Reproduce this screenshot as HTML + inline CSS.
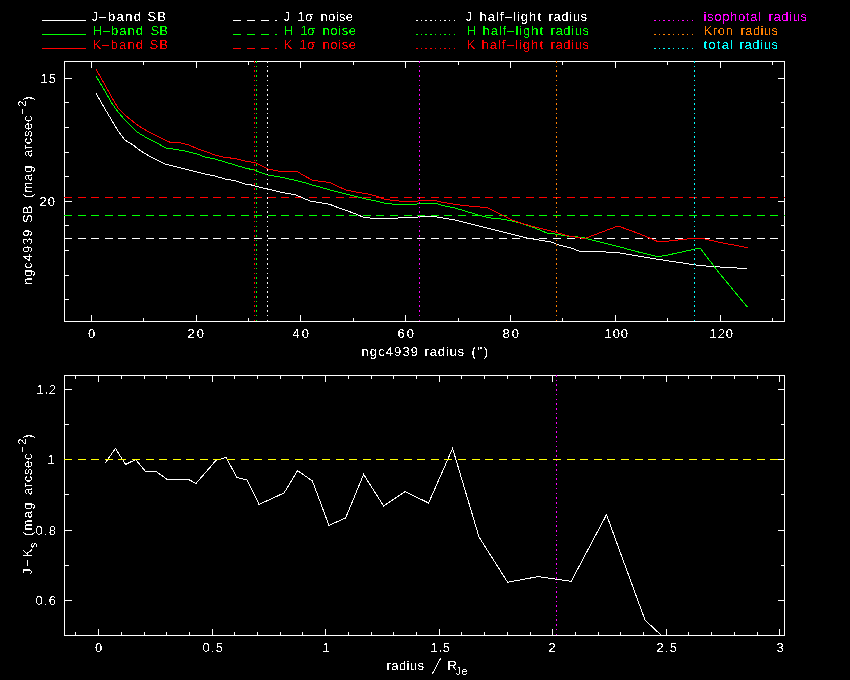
<!DOCTYPE html>
<html><head><meta charset="utf-8"><title>ngc4939 profile</title>
<style>
html,body{margin:0;padding:0;background:#000;width:850px;height:680px;overflow:hidden}
svg{display:block}
text{font-family:"Liberation Sans", sans-serif;}
</style></head><body>
<svg width="850" height="680" viewBox="0 0 850 680">
<defs>
<filter id="crisp" x="0" y="0" width="850" height="680" filterUnits="userSpaceOnUse"><feComponentTransfer><feFuncA type="discrete" tableValues="0 1"/></feComponentTransfer></filter>
<clipPath id="ctop"><rect x="64" y="61" width="721" height="261"/></clipPath>
<clipPath id="cbot"><rect x="64" y="375" width="721" height="261"/></clipPath>
</defs>
<rect width="850" height="680" fill="#000"/>
<g shape-rendering="crispEdges" stroke-width="1" fill="none">
<path d="M42 20.5H86" stroke="#ffffff" />
<path d="M233 20.5H277" stroke="#ffffff" stroke-dasharray="8 6"/>
<path d="M416 20.5H456" stroke="#ffffff" stroke-dasharray="1.5 3.2"/>
<path d="M42 34.5H86" stroke="#00ff00" />
<path d="M233 34.5H277" stroke="#00ff00" stroke-dasharray="8 6"/>
<path d="M416 34.5H456" stroke="#00ff00" stroke-dasharray="1.5 3.2"/>
<path d="M42 48.5H86" stroke="#ff0000" />
<path d="M233 48.5H277" stroke="#ff0000" stroke-dasharray="8 6"/>
<path d="M416 48.5H456" stroke="#ff0000" stroke-dasharray="1.5 3.2"/>
<path d="M654 20.5H694" stroke="#ff00ff" stroke-dasharray="1.5 3.2"/>
<path d="M654 34.5H694" stroke="#ff8000" stroke-dasharray="1.5 3.2"/>
<path d="M654 48.5H694" stroke="#00ffff" stroke-dasharray="1.5 3.2"/>
<rect x="64.5" y="61.5" width="720" height="260" fill="none" stroke="#ffffff"/>
<rect x="64.5" y="375.5" width="720" height="260" fill="none" stroke="#ffffff"/>
<path d="M91.5 315V321" stroke="#ffffff" />
<path d="M91.5 62V68" stroke="#ffffff" />
<path d="M143.5 318V321" stroke="#ffffff" />
<path d="M143.5 62V65" stroke="#ffffff" />
<path d="M196.5 315V321" stroke="#ffffff" />
<path d="M196.5 62V68" stroke="#ffffff" />
<path d="M248.5 318V321" stroke="#ffffff" />
<path d="M248.5 62V65" stroke="#ffffff" />
<path d="M300.5 315V321" stroke="#ffffff" />
<path d="M300.5 62V68" stroke="#ffffff" />
<path d="M353.5 318V321" stroke="#ffffff" />
<path d="M353.5 62V65" stroke="#ffffff" />
<path d="M405.5 315V321" stroke="#ffffff" />
<path d="M405.5 62V68" stroke="#ffffff" />
<path d="M458.5 318V321" stroke="#ffffff" />
<path d="M458.5 62V65" stroke="#ffffff" />
<path d="M510.5 315V321" stroke="#ffffff" />
<path d="M510.5 62V68" stroke="#ffffff" />
<path d="M562.5 318V321" stroke="#ffffff" />
<path d="M562.5 62V65" stroke="#ffffff" />
<path d="M615.5 315V321" stroke="#ffffff" />
<path d="M615.5 62V68" stroke="#ffffff" />
<path d="M667.5 318V321" stroke="#ffffff" />
<path d="M667.5 62V65" stroke="#ffffff" />
<path d="M720.5 315V321" stroke="#ffffff" />
<path d="M720.5 62V68" stroke="#ffffff" />
<path d="M772.5 318V321" stroke="#ffffff" />
<path d="M772.5 62V65" stroke="#ffffff" />
<path d="M65 78.5H72" stroke="#ffffff"/>
<path d="M778 78.5H784" stroke="#ffffff"/>
<path d="M65 102.5H69" stroke="#ffffff"/>
<path d="M781 102.5H784" stroke="#ffffff"/>
<path d="M65 127.5H69" stroke="#ffffff"/>
<path d="M781 127.5H784" stroke="#ffffff"/>
<path d="M65 152.5H69" stroke="#ffffff"/>
<path d="M781 152.5H784" stroke="#ffffff"/>
<path d="M65 176.5H69" stroke="#ffffff"/>
<path d="M781 176.5H784" stroke="#ffffff"/>
<path d="M65 201.5H72" stroke="#ffffff"/>
<path d="M778 201.5H784" stroke="#ffffff"/>
<path d="M65 225.5H69" stroke="#ffffff"/>
<path d="M781 225.5H784" stroke="#ffffff"/>
<path d="M65 250.5H69" stroke="#ffffff"/>
<path d="M781 250.5H784" stroke="#ffffff"/>
<path d="M65 275.5H69" stroke="#ffffff"/>
<path d="M781 275.5H784" stroke="#ffffff"/>
<path d="M65 299.5H69" stroke="#ffffff"/>
<path d="M781 299.5H784" stroke="#ffffff"/>
<path d="M75.5 632V635" stroke="#ffffff" />
<path d="M75.5 376V379" stroke="#ffffff" />
<path d="M98.5 629V635" stroke="#ffffff" />
<path d="M98.5 376V382" stroke="#ffffff" />
<path d="M121.5 632V635" stroke="#ffffff" />
<path d="M121.5 376V379" stroke="#ffffff" />
<path d="M144.5 632V635" stroke="#ffffff" />
<path d="M144.5 376V379" stroke="#ffffff" />
<path d="M166.5 632V635" stroke="#ffffff" />
<path d="M166.5 376V379" stroke="#ffffff" />
<path d="M189.5 632V635" stroke="#ffffff" />
<path d="M189.5 376V379" stroke="#ffffff" />
<path d="M212.5 629V635" stroke="#ffffff" />
<path d="M212.5 376V382" stroke="#ffffff" />
<path d="M234.5 632V635" stroke="#ffffff" />
<path d="M234.5 376V379" stroke="#ffffff" />
<path d="M257.5 632V635" stroke="#ffffff" />
<path d="M257.5 376V379" stroke="#ffffff" />
<path d="M280.5 632V635" stroke="#ffffff" />
<path d="M280.5 376V379" stroke="#ffffff" />
<path d="M302.5 632V635" stroke="#ffffff" />
<path d="M302.5 376V379" stroke="#ffffff" />
<path d="M325.5 629V635" stroke="#ffffff" />
<path d="M325.5 376V382" stroke="#ffffff" />
<path d="M348.5 632V635" stroke="#ffffff" />
<path d="M348.5 376V379" stroke="#ffffff" />
<path d="M371.5 632V635" stroke="#ffffff" />
<path d="M371.5 376V379" stroke="#ffffff" />
<path d="M393.5 632V635" stroke="#ffffff" />
<path d="M393.5 376V379" stroke="#ffffff" />
<path d="M416.5 632V635" stroke="#ffffff" />
<path d="M416.5 376V379" stroke="#ffffff" />
<path d="M439.5 629V635" stroke="#ffffff" />
<path d="M439.5 376V382" stroke="#ffffff" />
<path d="M461.5 632V635" stroke="#ffffff" />
<path d="M461.5 376V379" stroke="#ffffff" />
<path d="M484.5 632V635" stroke="#ffffff" />
<path d="M484.5 376V379" stroke="#ffffff" />
<path d="M507.5 632V635" stroke="#ffffff" />
<path d="M507.5 376V379" stroke="#ffffff" />
<path d="M530.5 632V635" stroke="#ffffff" />
<path d="M530.5 376V379" stroke="#ffffff" />
<path d="M552.5 629V635" stroke="#ffffff" />
<path d="M552.5 376V382" stroke="#ffffff" />
<path d="M575.5 632V635" stroke="#ffffff" />
<path d="M575.5 376V379" stroke="#ffffff" />
<path d="M598.5 632V635" stroke="#ffffff" />
<path d="M598.5 376V379" stroke="#ffffff" />
<path d="M620.5 632V635" stroke="#ffffff" />
<path d="M620.5 376V379" stroke="#ffffff" />
<path d="M643.5 632V635" stroke="#ffffff" />
<path d="M643.5 376V379" stroke="#ffffff" />
<path d="M666.5 629V635" stroke="#ffffff" />
<path d="M666.5 376V382" stroke="#ffffff" />
<path d="M688.5 632V635" stroke="#ffffff" />
<path d="M688.5 376V379" stroke="#ffffff" />
<path d="M711.5 632V635" stroke="#ffffff" />
<path d="M711.5 376V379" stroke="#ffffff" />
<path d="M734.5 632V635" stroke="#ffffff" />
<path d="M734.5 376V379" stroke="#ffffff" />
<path d="M757.5 632V635" stroke="#ffffff" />
<path d="M757.5 376V379" stroke="#ffffff" />
<path d="M779.5 629V635" stroke="#ffffff" />
<path d="M779.5 376V382" stroke="#ffffff" />
<path d="M65 600.5H72" stroke="#ffffff"/>
<path d="M778 600.5H784" stroke="#ffffff"/>
<path d="M65 565.5H69" stroke="#ffffff"/>
<path d="M781 565.5H784" stroke="#ffffff"/>
<path d="M65 530.5H72" stroke="#ffffff"/>
<path d="M778 530.5H784" stroke="#ffffff"/>
<path d="M65 494.5H69" stroke="#ffffff"/>
<path d="M781 494.5H784" stroke="#ffffff"/>
<path d="M65 459.5H72" stroke="#ffffff"/>
<path d="M778 459.5H784" stroke="#ffffff"/>
<path d="M65 424.5H69" stroke="#ffffff"/>
<path d="M781 424.5H784" stroke="#ffffff"/>
<path d="M65 389.5H72" stroke="#ffffff"/>
<path d="M778 389.5H784" stroke="#ffffff"/>
<path d="M64 197.5H785" stroke="#ff0000" stroke-dasharray="8 5.585"/>
<path d="M64 215.5H785" stroke="#00ff00" stroke-dasharray="8 5.585"/>
<path d="M64 238.5H785" stroke="#ffffff" stroke-dasharray="8 5.585"/>
<g clip-path="url(#ctop)">
<polyline points="96.4,94.0 105.0,109.0 111.0,119.0 118.0,131.0 125.0,140.0 133.0,145.0 141.0,151.0 149.0,156.0 157.0,160.0 165.0,164.0 175.0,166.6 185.0,169.0 195.0,171.6 205.0,174.0 215.0,176.0 225.0,179.0 235.0,180.6 245.0,184.0 254.0,185.4 256.0,186.4 268.0,189.0 280.0,192.0 296.0,195.0 302.0,197.6 310.0,201.0 322.0,203.0 330.0,204.4 338.0,207.6 346.0,210.4 356.0,214.0 364.0,217.6 370.0,218.0 398.0,218.0 402.0,217.4 415.0,217.4 421.0,216.6 435.0,216.6 443.0,218.0 455.0,220.0 467.0,223.0 479.0,226.0 491.0,229.0 503.0,232.0 515.0,235.0 527.0,238.0 539.0,240.0 551.0,242.0 559.0,245.0 571.0,248.0 579.0,251.0 585.0,251.4 600.0,251.6 620.0,253.0 640.0,256.4 660.0,259.6 680.0,262.6 700.0,265.6 720.0,267.0 747.0,268.6" fill="none" stroke="#ffffff" stroke-linecap="square"/>
<polyline points="96.4,77.0 105.0,91.0 111.0,102.0 118.0,112.0 125.0,120.0 137.0,132.0 147.0,138.0 155.0,142.0 166.0,148.0 173.0,149.0 185.0,151.0 197.0,154.0 205.0,157.0 215.0,159.0 225.0,162.0 235.0,165.0 245.0,168.0 254.0,170.0 258.0,171.6 268.0,175.0 280.0,177.0 296.0,180.4 304.0,182.4 312.0,185.0 322.0,187.6 330.0,190.0 338.0,192.0 346.0,194.0 356.0,196.4 366.0,199.0 376.0,201.0 386.0,203.6 398.0,204.4 415.0,204.4 421.0,203.2 435.0,203.2 443.0,205.6 455.0,208.0 465.0,211.0 475.0,214.0 483.0,216.4 491.0,218.0 503.0,219.2 515.0,221.6 523.0,224.0 535.0,228.0 547.0,233.0 555.0,234.0 567.0,236.0 575.0,236.6 583.0,237.6 586.0,238.4 620.0,247.0 640.0,252.4 658.0,256.6 668.0,255.0 700.0,248.0 720.0,274.0 747.0,306.6" fill="none" stroke="#00ff00" stroke-linecap="square"/>
<polyline points="96.4,70.0 105.0,85.0 111.0,96.0 118.0,108.0 125.0,115.0 131.0,120.0 139.0,126.0 147.0,131.0 155.0,135.0 165.0,140.0 171.0,142.6 181.0,143.0 189.0,145.0 197.0,148.6 207.0,152.0 215.0,155.0 223.0,157.0 235.0,158.6 245.0,161.0 254.0,162.6 256.0,163.0 268.0,169.0 280.0,171.4 297.0,171.4 304.0,175.6 312.0,180.0 322.0,181.6 330.0,182.4 338.0,186.4 346.0,190.0 356.0,192.0 366.0,193.6 376.0,196.0 386.0,199.6 394.0,200.4 404.0,201.6 415.0,201.4 421.0,200.6 435.0,200.6 443.0,202.4 455.0,204.4 469.0,206.0 475.0,206.6 487.0,207.6 495.0,211.6 503.0,215.6 511.0,219.6 519.0,222.4 531.0,226.0 543.0,229.0 555.0,232.0 567.0,235.6 575.0,237.0 585.0,238.6 586.0,238.0 618.0,226.0 640.0,234.0 658.0,241.6 664.0,241.6 692.0,238.4 702.0,238.4 720.0,242.4 747.0,247.6" fill="none" stroke="#ff0000" stroke-linecap="square"/>
</g>
<path d="M254.5 61V322" stroke="#ff0000" stroke-dasharray="1.6 3.1"/>
<path d="M256.5 61V322" stroke="#00ff00" stroke-dasharray="1.6 3.1"/>
<path d="M267.5 61V322" stroke="#ffffff" stroke-dasharray="1.6 3.1"/>
<path d="M419.5 61V322" stroke="#ff00ff" stroke-dasharray="1.6 3.1"/>
<path d="M556.5 61V322" stroke="#ff8000" stroke-dasharray="1.6 3.1"/>
<path d="M694.5 61V322" stroke="#00ffff" stroke-dasharray="1.6 3.1"/>
<g clip-path="url(#cbot)">
<polyline points="105.6,462.4 115.4,448.4 125.6,464.4 135.6,459.6 145.6,471.4 156.0,471.4 166.6,479.0 187.6,479.0 196.0,483.4 206.0,472.0 216.0,460.4 226.0,457.4 237.0,477.6 247.0,480.0 259.0,504.4 284.0,493.0 297.6,470.6 312.4,481.0 329.0,525.4 345.6,518.0 363.6,474.4 383.6,506.0 405.0,491.6 428.6,503.0 452.6,448.4 479.0,537.0 507.6,582.2 538.2,576.6 571.2,581.3 606.5,514.7 645.0,620.0 654.0,628.5 661.0,635.0" fill="none" stroke="#ffffff" stroke-linecap="square"/>
</g>
<path d="M64 459.5H785" stroke="#ffff00" stroke-dasharray="8 5.585"/>
<path d="M556.5 375V636" stroke="#ff00ff" stroke-dasharray="1.6 3.1"/>
<path d="M432.5 673.5L440.5 658.5" stroke="#ffffff" stroke-linecap="square"/>
</g><g filter="url(#crisp)">
<text x="91.50" y="21" fill="#ffffff" font-size="13" textLength="49.50" lengthAdjust="spacing">J–band</text>
<text x="147.50" y="21" fill="#ffffff" font-size="13" textLength="18.50" lengthAdjust="spacing">SB</text>
<text x="92.50" y="35" fill="#00ff00" font-size="13" textLength="50.50" lengthAdjust="spacing">H–band</text>
<text x="150.50" y="35" fill="#00ff00" font-size="13" textLength="17.50" lengthAdjust="spacing">SB</text>
<text x="92.50" y="49" fill="#ff0000" font-size="13" textLength="50.50" lengthAdjust="spacing">K–band</text>
<text x="149.50" y="49" fill="#ff0000" font-size="13" textLength="18.50" lengthAdjust="spacing">SB</text>
<text x="283.50" y="21" fill="#ffffff" font-size="13">J</text>
<text x="297.50" y="21" fill="#ffffff" font-size="13" textLength="15.50" lengthAdjust="spacing">1σ</text>
<text x="320.50" y="21" fill="#ffffff" font-size="13" textLength="32.50" lengthAdjust="spacing">noise</text>
<text x="283.50" y="35" fill="#00ff00" font-size="13">H</text>
<text x="300.50" y="35" fill="#00ff00" font-size="13" textLength="14.50" lengthAdjust="spacing">1σ</text>
<text x="322.50" y="35" fill="#00ff00" font-size="13" textLength="33.50" lengthAdjust="spacing">noise</text>
<text x="283.50" y="49" fill="#ff0000" font-size="13">K</text>
<text x="299.50" y="49" fill="#ff0000" font-size="13" textLength="15.50" lengthAdjust="spacing">1σ</text>
<text x="322.50" y="49" fill="#ff0000" font-size="13" textLength="33.50" lengthAdjust="spacing">noise</text>
<text x="465.50" y="21" fill="#ffffff" font-size="13">J</text>
<text x="479.50" y="21" fill="#ffffff" font-size="13" textLength="61.50" lengthAdjust="spacing">half–light</text>
<text x="548.50" y="21" fill="#ffffff" font-size="13" textLength="38.50" lengthAdjust="spacing">radius</text>
<text x="466.50" y="35" fill="#00ff00" font-size="13">H</text>
<text x="482.50" y="35" fill="#00ff00" font-size="13" textLength="60.50" lengthAdjust="spacing">half–light</text>
<text x="550.50" y="35" fill="#00ff00" font-size="13" textLength="38.50" lengthAdjust="spacing">radius</text>
<text x="466.50" y="49" fill="#ff0000" font-size="13">K</text>
<text x="481.50" y="49" fill="#ff0000" font-size="13" textLength="61.50" lengthAdjust="spacing">half–light</text>
<text x="550.50" y="49" fill="#ff0000" font-size="13" textLength="38.50" lengthAdjust="spacing">radius</text>
<text x="703.50" y="21" fill="#ff00ff" font-size="13" textLength="57.50" lengthAdjust="spacing">isophotal</text>
<text x="768.50" y="21" fill="#ff00ff" font-size="13" textLength="38.50" lengthAdjust="spacing">radius</text>
<text x="703.50" y="35" fill="#ff8000" font-size="13" textLength="29.50" lengthAdjust="spacing">Kron</text>
<text x="740.50" y="35" fill="#ff8000" font-size="13" textLength="37.50" lengthAdjust="spacing">radius</text>
<text x="703.50" y="49" fill="#00ffff" font-size="13" textLength="29.50" lengthAdjust="spacing">total</text>
<text x="739.50" y="49" fill="#00ffff" font-size="13" textLength="38.50" lengthAdjust="spacing">radius</text>
<text x="88.00" y="338" fill="#ffffff" font-size="13">0</text>
<text x="187.50" y="338" fill="#ffffff" font-size="13" textLength="16.50" lengthAdjust="spacing">20</text>
<text x="292.50" y="338" fill="#ffffff" font-size="13" textLength="16.50" lengthAdjust="spacing">40</text>
<text x="397.50" y="338" fill="#ffffff" font-size="13" textLength="16.50" lengthAdjust="spacing">60</text>
<text x="502.50" y="338" fill="#ffffff" font-size="13" textLength="16.50" lengthAdjust="spacing">80</text>
<text x="604.50" y="338" fill="#ffffff" font-size="13" textLength="23.50" lengthAdjust="spacing">100</text>
<text x="709.50" y="338" fill="#ffffff" font-size="13" textLength="23.50" lengthAdjust="spacing">120</text>
<text x="361.50" y="356" fill="#ffffff" font-size="13" textLength="56.50" lengthAdjust="spacing">ngc4939</text>
<text x="424.50" y="356" fill="#ffffff" font-size="13" textLength="39.50" lengthAdjust="spacing">radius</text>
<text x="471.50" y="356" fill="#ffffff" font-size="13" textLength="16.50" lengthAdjust="spacing">(&quot;)</text>
<text x="40.50" y="83" fill="#ffffff" font-size="13" textLength="15.50" lengthAdjust="spacing">15</text>
<text x="39.50" y="206" fill="#ffffff" font-size="13" textLength="15.50" lengthAdjust="spacing">20</text>
<text x="95.00" y="652" fill="#ffffff" font-size="13">0</text>
<text x="202.50" y="652" fill="#ffffff" font-size="13" textLength="20.50" lengthAdjust="spacing">0.5</text>
<text x="322.50" y="652" fill="#ffffff" font-size="13">1</text>
<text x="430.50" y="652" fill="#ffffff" font-size="13" textLength="19.50" lengthAdjust="spacing">1.5</text>
<text x="548.50" y="652" fill="#ffffff" font-size="13">2</text>
<text x="656.50" y="652" fill="#ffffff" font-size="13" textLength="20.50" lengthAdjust="spacing">2.5</text>
<text x="776.50" y="652" fill="#ffffff" font-size="13">3</text>
<text x="36.50" y="394" fill="#ffffff" font-size="13" textLength="19.50" lengthAdjust="spacing">1.2</text>
<text x="47.50" y="464" fill="#ffffff" font-size="13">1</text>
<text x="35.50" y="535" fill="#ffffff" font-size="13" textLength="20.50" lengthAdjust="spacing">0.8</text>
<text x="35.50" y="605" fill="#ffffff" font-size="13" textLength="20.50" lengthAdjust="spacing">0.6</text>
<text x="386.50" y="670" fill="#ffffff" font-size="13" textLength="37.50" lengthAdjust="spacing">radius</text>
<text x="447.50" y="670" fill="#ffffff" font-size="13">R</text>
<text x="455.50" y="675" fill="#ffffff" font-size="11.5" textLength="12.50" lengthAdjust="spacing">Je</text>
<text transform="translate(32 285.00) rotate(-90)" fill="#ffffff" font-size="13" textLength="55.50" lengthAdjust="spacing">ngc4939</text>
<text transform="translate(32 223.00) rotate(-90)" fill="#ffffff" font-size="13" textLength="17.50" lengthAdjust="spacing">SB</text>
<text transform="translate(32 198.00) rotate(-90)" fill="#ffffff" font-size="13" textLength="32.50" lengthAdjust="spacing">(mag</text>
<text transform="translate(32 157.00) rotate(-90)" fill="#ffffff" font-size="13" textLength="41.50" lengthAdjust="spacing">arcsec</text>
<text transform="translate(26 115.00) rotate(-90)" fill="#ffffff" font-size="11" textLength="14.50" lengthAdjust="spacing">−2</text>
<text transform="translate(32 100.50) rotate(-90)" fill="#ffffff" font-size="13">)</text>
<text transform="translate(32 575.00) rotate(-90)" fill="#ffffff" font-size="13" textLength="26.50" lengthAdjust="spacing">J−K</text>
<text transform="translate(37 548.00) rotate(-90)" fill="#ffffff" font-size="11">s</text>
<text transform="translate(32 536.00) rotate(-90)" fill="#ffffff" font-size="13" textLength="33.50" lengthAdjust="spacing">(mag</text>
<text transform="translate(32 495.00) rotate(-90)" fill="#ffffff" font-size="13" textLength="41.50" lengthAdjust="spacing">arcsec</text>
<text transform="translate(26 453.00) rotate(-90)" fill="#ffffff" font-size="11" textLength="14.50" lengthAdjust="spacing">−2</text>
<text transform="translate(32 438.50) rotate(-90)" fill="#ffffff" font-size="13">)</text>
</g>
</svg>
</body></html>
